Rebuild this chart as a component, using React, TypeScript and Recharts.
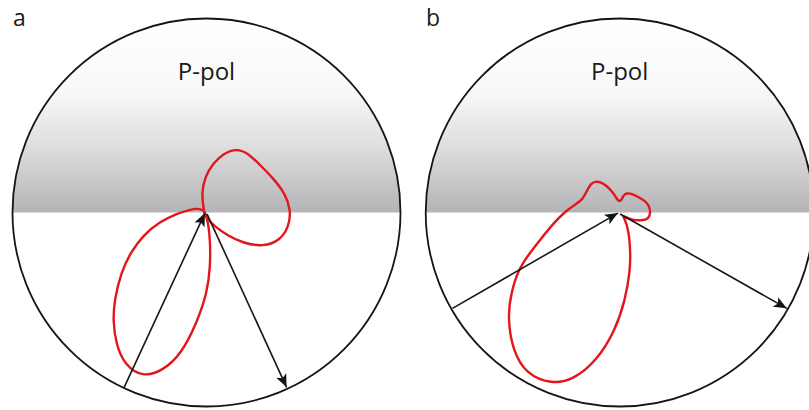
import React from 'react';
import { ComposedChart, Line, XAxis, YAxis, ReferenceArea, ReferenceDot } from 'recharts';

// ---- data (unit circle = radius 1, origin = circle centre) ----
const panelLabels = ['a', 'b'];
const polLabel = 'P-pol';
const circleBounds = [-1, 1];

const aUpperLobe = [
  { x: -0.013, y: 0.008 }, { x: -0.016, y: 0.03 }, { x: -0.025, y: 0.099 }, { x: -0.008, y: 0.185 },
  { x: 0.035, y: 0.254 }, { x: 0.087, y: 0.305 }, { x: 0.156, y: 0.33 }, { x: 0.215, y: 0.305 },
  { x: 0.276, y: 0.245 }, { x: 0.344, y: 0.176 }, { x: 0.405, y: 0.099 }, { x: 0.435, y: 0.013 },
  { x: 0.425, y: -0.073 }, { x: 0.379, y: -0.145 }, { x: 0.293, y: -0.176 }, { x: 0.19, y: -0.159 },
  { x: 0.104, y: -0.116 }, { x: 0.044, y: -0.073 }, { x: 0.001, y: -0.03 }, { x: -0.013, y: 0.003 },
];

const aLowerLobe = [
  { x: -0.013, y: 0.008 }, { x: -0.042, y: 0.022 }, { x: -0.085, y: 0.015 }, { x: -0.154, y: -0.006 },
  { x: -0.24, y: -0.047 }, { x: -0.326, y: -0.116 }, { x: -0.394, y: -0.21 }, { x: -0.44, y: -0.31 },
  { x: -0.475, y: -0.451 }, { x: -0.482, y: -0.56 }, { x: -0.466, y: -0.68 }, { x: -0.422, y: -0.785 },
  { x: -0.33, y: -0.85 }, { x: -0.223, y: -0.815 }, { x: -0.128, y: -0.726 }, { x: -0.051, y: -0.571 },
  { x: 0.003, y: -0.416 }, { x: 0.02, y: -0.279 }, { x: 0.019, y: -0.142 }, { x: 0.009, y: -0.056 },
  { x: -0.003, y: -0.013 }, { x: -0.013, y: 0.008 },
];

const aIncident = [{ x: -0.425, y: -0.903 }, { x: -0.008, y: -0.003 }];
const aReflected = [{ x: 0.003, y: -0.008 }, { x: 0.413, y: -0.901 }];

const bPattern = [
  { x: 0.017, y: -0.018 }, { x: 0.036, y: -0.056 }, { x: 0.05, y: -0.125 }, { x: 0.055, y: -0.21 },
  { x: 0.054, y: -0.296 }, { x: 0.029, y: -0.451 }, { x: -0.024, y: -0.61 }, { x: -0.119, y: -0.765 },
  { x: -0.239, y: -0.862 }, { x: -0.351, y: -0.885 }, { x: -0.482, y: -0.833 }, { x: -0.552, y: -0.712 },
  { x: -0.578, y: -0.537 }, { x: -0.56, y: -0.416 }, { x: -0.523, y: -0.296 }, { x: -0.471, y: -0.219 },
  { x: -0.411, y: -0.142 }, { x: -0.342, y: -0.056 }, { x: -0.273, y: 0.013 }, { x: -0.215, y: 0.05 },
  { x: -0.19, y: 0.07 }, { x: -0.17, y: 0.11 }, { x: -0.15, y: 0.148 }, { x: -0.125, y: 0.16 },
  { x: -0.1, y: 0.158 }, { x: -0.07, y: 0.14 }, { x: -0.04, y: 0.11 }, { x: -0.02, y: 0.08 },
  { x: -0.007, y: 0.058 }, { x: 0.008, y: 0.06 }, { x: 0.02, y: 0.09 }, { x: 0.035, y: 0.1 },
  { x: 0.06, y: 0.098 }, { x: 0.1, y: 0.078 }, { x: 0.14, y: 0.055 }, { x: 0.162, y: 0.01 },
  { x: 0.15, y: -0.035 }, { x: 0.11, y: -0.042 }, { x: 0.06, y: -0.038 }, { x: 0.017, y: -0.018 },
];

const bIncident = [{ x: -0.862, y: -0.494 }, { x: -0.009, y: -0.003 }];
const bReflected = [{ x: 0.002, y: -0.008 }, { x: 0.861, y: -0.494 }];

// ---- layout / style ----
const H = 410;
const yDomain: [number, number] = [-1.018, 1.0954];
const RED = '#e3161b';
const INK = '#151515';

function makeArrowDot(data: { x: number; y: number }[]) {
  return (props: any) => {
    const { cx, cy, index } = props;
    if (index !== data.length - 1 || cx == null) return <g key={`d${index}`} />;
    const a = data[index];
    const b = data[index - 1];
    const ang = (Math.atan2(-(a.y - b.y), a.x - b.x) * 180) / Math.PI;
    return (
      <polygon
        key={`head${index}`}
        points="0,0 -13,-5.5 -10,0 -13,5.5"
        transform={`translate(${cx},${cy}) rotate(${ang})`}
        fill={INK}
      />
    );
  };
}

function makeDisk(gradId: string) {
  return (props: any) => {
    const { x, y, width, height } = props;
    const cx = x + width / 2;
    const cy = y + height / 2;
    const rx = width / 2;
    const ry = height / 2;
    return (
      <g>
        <path d={`M${x},${cy} A${rx},${ry} 0 0 1 ${x + width},${cy} Z`} fill={`url(#${gradId})`} />
        <ellipse cx={cx} cy={cy} rx={rx} ry={ry} fill="none" stroke={INK} strokeWidth={1.8} />
      </g>
    );
  };
}

type PanelProps = {
  width: number;
  xDomain: [number, number];
  gradId: string;
  letter: string;
  lobes: { x: number; y: number }[][];
  arrows: { x: number; y: number }[][];
};

function Panel({ width, xDomain, gradId, letter, lobes, arrows }: PanelProps) {
  return (
    <ComposedChart width={width} height={H} margin={{ top: 0, right: 0, bottom: 0, left: 0 }}>
      <defs>
        <linearGradient id={gradId} x1="0" y1="0" x2="0" y2="1">
          <stop offset="0" stopColor="#ffffff" />
          <stop offset="0.38" stopColor="#f8f8f8" />
          <stop offset="0.66" stopColor="#dedede" />
          <stop offset="1" stopColor="#b4b4b7" />
        </linearGradient>
      </defs>
      <XAxis type="number" dataKey="x" domain={xDomain} allowDataOverflow hide />
      <YAxis type="number" dataKey="y" domain={yDomain} allowDataOverflow hide />
      <ReferenceArea
        x1={circleBounds[0]}
        x2={circleBounds[1]}
        y1={circleBounds[0]}
        y2={circleBounds[1]}
        ifOverflow="visible"
        shape={makeDisk(gradId)}
      />
      <ReferenceDot
        x={0}
        y={0.727}
        r={0}
        ifOverflow="visible"
        label={{ value: polLabel, position: 'center', fontSize: 24, fill: '#1a1a1a', fontFamily: 'Open Sans' }}
      />
      {lobes.map((d, i) => (
        <Line
          key={`lobe${i}`}
          data={d}
          dataKey="y"
          type="basis"
          stroke={RED}
          strokeWidth={2.4}
          dot={false}
          activeDot={false}
          isAnimationActive={false}
        />
      ))}
      {arrows.map((d, i) => (
        <Line
          key={`arrow${i}`}
          data={d}
          dataKey="y"
          type="linear"
          stroke={INK}
          strokeWidth={1.6}
          dot={makeArrowDot(d)}
          activeDot={false}
          isAnimationActive={false}
        />
      ))}
      <text x={13} y={25.5} fontSize={23} fontFamily="Open Sans" fill="#1a1a1a">
        {letter}
      </text>
    </ComposedChart>
  );
}

export default function App() {
  return (
    <div style={{ width: 809, height: H, overflow: 'hidden', display: 'flex', background: '#fff' }}>
      <style>{'body{margin:0}'}</style>
      <Panel
        width={413}
        xDomain={[-1.0644, 1.0644]}
        gradId="gradA"
        letter={panelLabels[0]}
        lobes={[aUpperLobe, aLowerLobe]}
        arrows={[aIncident, aReflected]}
      />
      <Panel
        width={396}
        xDomain={[-1.0655, 0.9758]}
        gradId="gradB"
        letter={panelLabels[1]}
        lobes={[bPattern]}
        arrows={[bIncident, bReflected]}
      />
    </div>
  );
}
